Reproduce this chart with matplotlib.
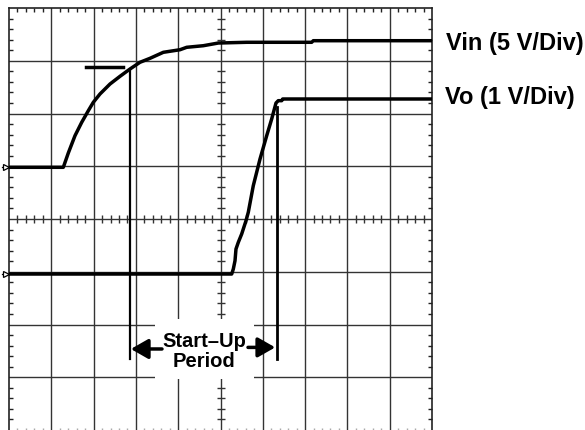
import matplotlib
matplotlib.use('Agg')
import matplotlib.pyplot as plt
from matplotlib.patches import Rectangle

# ---- data (in screen divisions) ----
n_xdiv = 10
n_ydiv = 8

vin_x = [0.0, 1.284, 1.402, 1.560, 1.719, 1.875, 1.993, 2.151, 2.388, 2.624,
         2.861, 3.097, 3.333, 3.648, 4.043, 4.201, 4.593, 4.948, 5.619, 7.156,
         7.194, 10.0]
vin_y = [4.98, 4.98, 5.251, 5.579, 5.833, 6.053, 6.212, 6.370, 6.559, 6.705,
         6.844, 6.971, 7.046, 7.160, 7.209, 7.255, 7.285, 7.336, 7.350, 7.350,
         7.380, 7.380]

vo_x = [0.0, 5.265, 5.303, 5.343, 5.366, 5.421, 5.501, 5.539, 5.603, 5.657,
        5.775, 5.934, 6.092, 6.210, 6.312, 6.366, 6.447, 6.470, 10.0]
vo_y = [2.957, 2.957, 3.052, 3.209, 3.431, 3.558, 3.716, 3.810, 3.968, 4.127,
        4.631, 5.137, 5.579, 5.896, 6.199, 6.243, 6.243, 6.275, 6.275]

vin_ground = 4.98
vo_ground = 2.957

t_start = 2.861
t_end = 6.343
start_cursor_top = 6.806
end_cursor_top = 6.123
cursor_bottom = 1.346
level_bar_x = [1.820, 2.695]
level_bar_y = 6.882

labels = ["Vin (5 V/Div)", "Vo (1 V/Div)"]
period_lines = ["Start\u2013Up", "Period"]

# ---- figure ----
W, H = 585, 431
fig = plt.figure(figsize=(W / 100, H / 100), dpi=100)
ax = fig.add_axes([9 / W, 0, 423 / W, 422 / H])
ax.set_xlim(0, n_xdiv)
ax.set_ylim(0, n_ydiv)
ax.set_xticks([])
ax.set_yticks([])
for s in ['left', 'top', 'right']:
    ax.spines[s].set_linewidth(1.2)
    ax.spines[s].set_color('#222222')
ax.spines['bottom'].set_visible(False)

gcol = '#333333'
for i in range(1, n_xdiv):
    ax.axvline(i, color=gcol, lw=1.0, zorder=1)
for j in range(1, n_ydiv):
    ax.axhline(j, color=gcol, lw=1.0, zorder=1)

minor_x = [k * 0.2 for k in range(1, n_xdiv * 5) if k % 5 != 0]
minor_y = [k * 0.2 for k in range(1, n_ydiv * 5) if k % 5 != 0]

# border minor ticks
ax.set_xticks(minor_x, minor=True)
ax.set_yticks(minor_y, minor=True)
ax.tick_params(which='minor', direction='in', length=3, width=1,
               top=True, bottom=False, left=True, right=True, color='#222222',
               labelbottom=False, labelleft=False)
# bottom light ticks
ax.vlines(minor_x, 0, 0.03, color='#aaaaaa', lw=1, zorder=1)

# centre line crosses
ax.plot(minor_x, [n_ydiv / 2] * len(minor_x), ls='none', marker='|',
        ms=5.5, mew=1, color=gcol, zorder=1)
ax.plot([n_xdiv / 2] * len(minor_y), minor_y, ls='none', marker='_',
        ms=5.5, mew=1, color=gcol, zorder=1)

# white label box
ax.add_patch(Rectangle((3.452, 0.967), 5.792 - 3.452, 2.104 - 0.967,
                       fc='white', ec='none', zorder=2))

# traces
ax.plot(vin_x, vin_y, color='black', lw=2.5, solid_joinstyle='round', zorder=4)
ax.plot(vo_x, vo_y, color='black', lw=2.5, solid_joinstyle='round', zorder=4)

# ground markers
for g in (vin_ground, vo_ground):
    ax.plot([-0.17, 0], [g, g], color='black', lw=0.9, clip_on=False, zorder=5)
    ax.plot([-0.07], [g], marker='>', ms=4.5, mfc='white', mec='black', mew=0.9,
            clip_on=False, zorder=6)

# cursors
ax.plot(level_bar_x, [level_bar_y] * 2, color='black', lw=2.5, zorder=4)
ax.plot([t_start, t_start], [cursor_bottom, start_cursor_top], color='black',
        lw=1.6, zorder=4)
ax.plot([t_end, t_end], [cursor_bottom, end_cursor_top], color='black',
        lw=2.0, zorder=4)

# arrows
arrow_y = 1.536
ap = dict(arrowstyle='-|>,head_length=1.05,head_width=0.6', lw=2.5,
          color='black', mutation_scale=10, shrinkA=0, shrinkB=0)
ax.annotate('', xy=(t_start + 0.02, arrow_y), xytext=(3.617, arrow_y),
            arrowprops=ap, zorder=5)
ax.annotate('', xy=(t_end - 0.05, arrow_y + 0.03), xytext=(5.650, arrow_y + 0.03),
            arrowprops=ap, zorder=5)

font = dict(family=['Liberation Sans', 'DejaVu Sans'], weight='bold')
ax.text(4.61, 1.598, period_lines[0], ha='center', va='baseline',
        fontsize=14.5, zorder=6, **font)
ax.text(4.61, 1.219, period_lines[1], ha='center', va='baseline',
        fontsize=14.5, zorder=6, **font)

fig.text(446 / W, 1 - 50 / H, labels[0], ha='left', va='baseline',
         fontsize=17, **font)
fig.text(445 / W, 1 - 104 / H, labels[1], ha='left', va='baseline',
         fontsize=17, **font)

fig.savefig('out.png', dpi=100)
